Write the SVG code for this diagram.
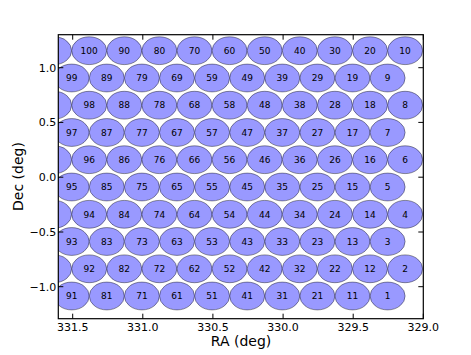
<svg xmlns="http://www.w3.org/2000/svg" width="471" height="355" viewBox="0 0 471 355">
<style>
.e{fill:#9999ff;stroke:#000;stroke-opacity:0.4;stroke-width:1}
.l{font-family:"DejaVu Sans",sans-serif;font-size:9px;fill:#000;text-anchor:middle}
.t{font-family:"DejaVu Sans",sans-serif;font-size:11px;fill:#000}
.a{font-family:"DejaVu Sans",sans-serif;font-size:14px;fill:#000;text-anchor:middle}
.tk{stroke:#000;stroke-width:1}
</style>
<defs><clipPath id="c"><rect x="58.3" y="34.7" width="365" height="284"/></clipPath></defs>
<rect width="471" height="355" fill="#fff"/>
<g clip-path="url(#c)">
<g id="edge-partials">
<ellipse class="e" cx="54.1" cy="50.7" rx="17.5" ry="13.9"/>
<ellipse class="e" cx="54.1" cy="105.2" rx="17.5" ry="13.9"/>
<ellipse class="e" cx="54.1" cy="159.7" rx="17.5" ry="13.9"/>
<ellipse class="e" cx="54.1" cy="214.3" rx="17.5" ry="13.9"/>
<ellipse class="e" cx="54.1" cy="268.8" rx="17.5" ry="13.9"/>
</g>
<g id="n100"><ellipse class="e" cx="89.2" cy="50.7" rx="17.5" ry="13.9"/><text class="l" x="89.2" y="53.9">100</text></g>
<g id="n90"><ellipse class="e" cx="124.3" cy="50.7" rx="17.5" ry="13.9"/><text class="l" x="124.3" y="53.9">90</text></g>
<g id="n80"><ellipse class="e" cx="159.4" cy="50.7" rx="17.5" ry="13.9"/><text class="l" x="159.4" y="53.9">80</text></g>
<g id="n70"><ellipse class="e" cx="194.5" cy="50.7" rx="17.5" ry="13.9"/><text class="l" x="194.5" y="53.9">70</text></g>
<g id="n60"><ellipse class="e" cx="229.6" cy="50.7" rx="17.5" ry="13.9"/><text class="l" x="229.6" y="53.9">60</text></g>
<g id="n50"><ellipse class="e" cx="264.7" cy="50.7" rx="17.5" ry="13.9"/><text class="l" x="264.7" y="53.9">50</text></g>
<g id="n40"><ellipse class="e" cx="299.8" cy="50.7" rx="17.5" ry="13.9"/><text class="l" x="299.8" y="53.9">40</text></g>
<g id="n30"><ellipse class="e" cx="334.9" cy="50.7" rx="17.5" ry="13.9"/><text class="l" x="334.9" y="53.9">30</text></g>
<g id="n20"><ellipse class="e" cx="370.0" cy="50.7" rx="17.5" ry="13.9"/><text class="l" x="370.0" y="53.9">20</text></g>
<g id="n10"><ellipse class="e" cx="405.1" cy="50.7" rx="17.5" ry="13.9"/><text class="l" x="405.1" y="53.9">10</text></g>

<g id="n99"><ellipse class="e" cx="71.7" cy="78.0" rx="17.5" ry="13.9"/><text class="l" x="71.7" y="81.2">99</text></g>
<g id="n89"><ellipse class="e" cx="106.8" cy="78.0" rx="17.5" ry="13.9"/><text class="l" x="106.8" y="81.2">89</text></g>
<g id="n79"><ellipse class="e" cx="141.9" cy="78.0" rx="17.5" ry="13.9"/><text class="l" x="141.9" y="81.2">79</text></g>
<g id="n69"><ellipse class="e" cx="177.0" cy="78.0" rx="17.5" ry="13.9"/><text class="l" x="177.0" y="81.2">69</text></g>
<g id="n59"><ellipse class="e" cx="212.1" cy="78.0" rx="17.5" ry="13.9"/><text class="l" x="212.1" y="81.2">59</text></g>
<g id="n49"><ellipse class="e" cx="247.2" cy="78.0" rx="17.5" ry="13.9"/><text class="l" x="247.2" y="81.2">49</text></g>
<g id="n39"><ellipse class="e" cx="282.3" cy="78.0" rx="17.5" ry="13.9"/><text class="l" x="282.3" y="81.2">39</text></g>
<g id="n29"><ellipse class="e" cx="317.4" cy="78.0" rx="17.5" ry="13.9"/><text class="l" x="317.4" y="81.2">29</text></g>
<g id="n19"><ellipse class="e" cx="352.5" cy="78.0" rx="17.5" ry="13.9"/><text class="l" x="352.5" y="81.2">19</text></g>
<g id="n9"><ellipse class="e" cx="387.6" cy="78.0" rx="17.5" ry="13.9"/><text class="l" x="387.6" y="81.2">9</text></g>

<g id="n98"><ellipse class="e" cx="89.2" cy="105.2" rx="17.5" ry="13.9"/><text class="l" x="89.2" y="108.4">98</text></g>
<g id="n88"><ellipse class="e" cx="124.3" cy="105.2" rx="17.5" ry="13.9"/><text class="l" x="124.3" y="108.4">88</text></g>
<g id="n78"><ellipse class="e" cx="159.4" cy="105.2" rx="17.5" ry="13.9"/><text class="l" x="159.4" y="108.4">78</text></g>
<g id="n68"><ellipse class="e" cx="194.5" cy="105.2" rx="17.5" ry="13.9"/><text class="l" x="194.5" y="108.4">68</text></g>
<g id="n58"><ellipse class="e" cx="229.6" cy="105.2" rx="17.5" ry="13.9"/><text class="l" x="229.6" y="108.4">58</text></g>
<g id="n48"><ellipse class="e" cx="264.7" cy="105.2" rx="17.5" ry="13.9"/><text class="l" x="264.7" y="108.4">48</text></g>
<g id="n38"><ellipse class="e" cx="299.8" cy="105.2" rx="17.5" ry="13.9"/><text class="l" x="299.8" y="108.4">38</text></g>
<g id="n28"><ellipse class="e" cx="334.9" cy="105.2" rx="17.5" ry="13.9"/><text class="l" x="334.9" y="108.4">28</text></g>
<g id="n18"><ellipse class="e" cx="370.0" cy="105.2" rx="17.5" ry="13.9"/><text class="l" x="370.0" y="108.4">18</text></g>
<g id="n8"><ellipse class="e" cx="405.1" cy="105.2" rx="17.5" ry="13.9"/><text class="l" x="405.1" y="108.4">8</text></g>

<g id="n97"><ellipse class="e" cx="71.7" cy="132.5" rx="17.5" ry="13.9"/><text class="l" x="71.7" y="135.7">97</text></g>
<g id="n87"><ellipse class="e" cx="106.8" cy="132.5" rx="17.5" ry="13.9"/><text class="l" x="106.8" y="135.7">87</text></g>
<g id="n77"><ellipse class="e" cx="141.9" cy="132.5" rx="17.5" ry="13.9"/><text class="l" x="141.9" y="135.7">77</text></g>
<g id="n67"><ellipse class="e" cx="177.0" cy="132.5" rx="17.5" ry="13.9"/><text class="l" x="177.0" y="135.7">67</text></g>
<g id="n57"><ellipse class="e" cx="212.1" cy="132.5" rx="17.5" ry="13.9"/><text class="l" x="212.1" y="135.7">57</text></g>
<g id="n47"><ellipse class="e" cx="247.2" cy="132.5" rx="17.5" ry="13.9"/><text class="l" x="247.2" y="135.7">47</text></g>
<g id="n37"><ellipse class="e" cx="282.3" cy="132.5" rx="17.5" ry="13.9"/><text class="l" x="282.3" y="135.7">37</text></g>
<g id="n27"><ellipse class="e" cx="317.4" cy="132.5" rx="17.5" ry="13.9"/><text class="l" x="317.4" y="135.7">27</text></g>
<g id="n17"><ellipse class="e" cx="352.5" cy="132.5" rx="17.5" ry="13.9"/><text class="l" x="352.5" y="135.7">17</text></g>
<g id="n7"><ellipse class="e" cx="387.6" cy="132.5" rx="17.5" ry="13.9"/><text class="l" x="387.6" y="135.7">7</text></g>

<g id="n96"><ellipse class="e" cx="89.2" cy="159.7" rx="17.5" ry="13.9"/><text class="l" x="89.2" y="162.9">96</text></g>
<g id="n86"><ellipse class="e" cx="124.3" cy="159.7" rx="17.5" ry="13.9"/><text class="l" x="124.3" y="162.9">86</text></g>
<g id="n76"><ellipse class="e" cx="159.4" cy="159.7" rx="17.5" ry="13.9"/><text class="l" x="159.4" y="162.9">76</text></g>
<g id="n66"><ellipse class="e" cx="194.5" cy="159.7" rx="17.5" ry="13.9"/><text class="l" x="194.5" y="162.9">66</text></g>
<g id="n56"><ellipse class="e" cx="229.6" cy="159.7" rx="17.5" ry="13.9"/><text class="l" x="229.6" y="162.9">56</text></g>
<g id="n46"><ellipse class="e" cx="264.7" cy="159.7" rx="17.5" ry="13.9"/><text class="l" x="264.7" y="162.9">46</text></g>
<g id="n36"><ellipse class="e" cx="299.8" cy="159.7" rx="17.5" ry="13.9"/><text class="l" x="299.8" y="162.9">36</text></g>
<g id="n26"><ellipse class="e" cx="334.9" cy="159.7" rx="17.5" ry="13.9"/><text class="l" x="334.9" y="162.9">26</text></g>
<g id="n16"><ellipse class="e" cx="370.0" cy="159.7" rx="17.5" ry="13.9"/><text class="l" x="370.0" y="162.9">16</text></g>
<g id="n6"><ellipse class="e" cx="405.1" cy="159.7" rx="17.5" ry="13.9"/><text class="l" x="405.1" y="162.9">6</text></g>

<g id="n95"><ellipse class="e" cx="71.7" cy="187.0" rx="17.5" ry="13.9"/><text class="l" x="71.7" y="190.2">95</text></g>
<g id="n85"><ellipse class="e" cx="106.8" cy="187.0" rx="17.5" ry="13.9"/><text class="l" x="106.8" y="190.2">85</text></g>
<g id="n75"><ellipse class="e" cx="141.9" cy="187.0" rx="17.5" ry="13.9"/><text class="l" x="141.9" y="190.2">75</text></g>
<g id="n65"><ellipse class="e" cx="177.0" cy="187.0" rx="17.5" ry="13.9"/><text class="l" x="177.0" y="190.2">65</text></g>
<g id="n55"><ellipse class="e" cx="212.1" cy="187.0" rx="17.5" ry="13.9"/><text class="l" x="212.1" y="190.2">55</text></g>
<g id="n45"><ellipse class="e" cx="247.2" cy="187.0" rx="17.5" ry="13.9"/><text class="l" x="247.2" y="190.2">45</text></g>
<g id="n35"><ellipse class="e" cx="282.3" cy="187.0" rx="17.5" ry="13.9"/><text class="l" x="282.3" y="190.2">35</text></g>
<g id="n25"><ellipse class="e" cx="317.4" cy="187.0" rx="17.5" ry="13.9"/><text class="l" x="317.4" y="190.2">25</text></g>
<g id="n15"><ellipse class="e" cx="352.5" cy="187.0" rx="17.5" ry="13.9"/><text class="l" x="352.5" y="190.2">15</text></g>
<g id="n5"><ellipse class="e" cx="387.6" cy="187.0" rx="17.5" ry="13.9"/><text class="l" x="387.6" y="190.2">5</text></g>

<g id="n94"><ellipse class="e" cx="89.2" cy="214.3" rx="17.5" ry="13.9"/><text class="l" x="89.2" y="217.5">94</text></g>
<g id="n84"><ellipse class="e" cx="124.3" cy="214.3" rx="17.5" ry="13.9"/><text class="l" x="124.3" y="217.5">84</text></g>
<g id="n74"><ellipse class="e" cx="159.4" cy="214.3" rx="17.5" ry="13.9"/><text class="l" x="159.4" y="217.5">74</text></g>
<g id="n64"><ellipse class="e" cx="194.5" cy="214.3" rx="17.5" ry="13.9"/><text class="l" x="194.5" y="217.5">64</text></g>
<g id="n54"><ellipse class="e" cx="229.6" cy="214.3" rx="17.5" ry="13.9"/><text class="l" x="229.6" y="217.5">54</text></g>
<g id="n44"><ellipse class="e" cx="264.7" cy="214.3" rx="17.5" ry="13.9"/><text class="l" x="264.7" y="217.5">44</text></g>
<g id="n34"><ellipse class="e" cx="299.8" cy="214.3" rx="17.5" ry="13.9"/><text class="l" x="299.8" y="217.5">34</text></g>
<g id="n24"><ellipse class="e" cx="334.9" cy="214.3" rx="17.5" ry="13.9"/><text class="l" x="334.9" y="217.5">24</text></g>
<g id="n14"><ellipse class="e" cx="370.0" cy="214.3" rx="17.5" ry="13.9"/><text class="l" x="370.0" y="217.5">14</text></g>
<g id="n4"><ellipse class="e" cx="405.1" cy="214.3" rx="17.5" ry="13.9"/><text class="l" x="405.1" y="217.5">4</text></g>

<g id="n93"><ellipse class="e" cx="71.7" cy="241.5" rx="17.5" ry="13.9"/><text class="l" x="71.7" y="244.7">93</text></g>
<g id="n83"><ellipse class="e" cx="106.8" cy="241.5" rx="17.5" ry="13.9"/><text class="l" x="106.8" y="244.7">83</text></g>
<g id="n73"><ellipse class="e" cx="141.9" cy="241.5" rx="17.5" ry="13.9"/><text class="l" x="141.9" y="244.7">73</text></g>
<g id="n63"><ellipse class="e" cx="177.0" cy="241.5" rx="17.5" ry="13.9"/><text class="l" x="177.0" y="244.7">63</text></g>
<g id="n53"><ellipse class="e" cx="212.1" cy="241.5" rx="17.5" ry="13.9"/><text class="l" x="212.1" y="244.7">53</text></g>
<g id="n43"><ellipse class="e" cx="247.2" cy="241.5" rx="17.5" ry="13.9"/><text class="l" x="247.2" y="244.7">43</text></g>
<g id="n33"><ellipse class="e" cx="282.3" cy="241.5" rx="17.5" ry="13.9"/><text class="l" x="282.3" y="244.7">33</text></g>
<g id="n23"><ellipse class="e" cx="317.4" cy="241.5" rx="17.5" ry="13.9"/><text class="l" x="317.4" y="244.7">23</text></g>
<g id="n13"><ellipse class="e" cx="352.5" cy="241.5" rx="17.5" ry="13.9"/><text class="l" x="352.5" y="244.7">13</text></g>
<g id="n3"><ellipse class="e" cx="387.6" cy="241.5" rx="17.5" ry="13.9"/><text class="l" x="387.6" y="244.7">3</text></g>

<g id="n92"><ellipse class="e" cx="89.2" cy="268.8" rx="17.5" ry="13.9"/><text class="l" x="89.2" y="272.0">92</text></g>
<g id="n82"><ellipse class="e" cx="124.3" cy="268.8" rx="17.5" ry="13.9"/><text class="l" x="124.3" y="272.0">82</text></g>
<g id="n72"><ellipse class="e" cx="159.4" cy="268.8" rx="17.5" ry="13.9"/><text class="l" x="159.4" y="272.0">72</text></g>
<g id="n62"><ellipse class="e" cx="194.5" cy="268.8" rx="17.5" ry="13.9"/><text class="l" x="194.5" y="272.0">62</text></g>
<g id="n52"><ellipse class="e" cx="229.6" cy="268.8" rx="17.5" ry="13.9"/><text class="l" x="229.6" y="272.0">52</text></g>
<g id="n42"><ellipse class="e" cx="264.7" cy="268.8" rx="17.5" ry="13.9"/><text class="l" x="264.7" y="272.0">42</text></g>
<g id="n32"><ellipse class="e" cx="299.8" cy="268.8" rx="17.5" ry="13.9"/><text class="l" x="299.8" y="272.0">32</text></g>
<g id="n22"><ellipse class="e" cx="334.9" cy="268.8" rx="17.5" ry="13.9"/><text class="l" x="334.9" y="272.0">22</text></g>
<g id="n12"><ellipse class="e" cx="370.0" cy="268.8" rx="17.5" ry="13.9"/><text class="l" x="370.0" y="272.0">12</text></g>
<g id="n2"><ellipse class="e" cx="405.1" cy="268.8" rx="17.5" ry="13.9"/><text class="l" x="405.1" y="272.0">2</text></g>

<g id="n91"><ellipse class="e" cx="71.7" cy="296.0" rx="17.5" ry="13.9"/><text class="l" x="71.7" y="299.2">91</text></g>
<g id="n81"><ellipse class="e" cx="106.8" cy="296.0" rx="17.5" ry="13.9"/><text class="l" x="106.8" y="299.2">81</text></g>
<g id="n71"><ellipse class="e" cx="141.9" cy="296.0" rx="17.5" ry="13.9"/><text class="l" x="141.9" y="299.2">71</text></g>
<g id="n61"><ellipse class="e" cx="177.0" cy="296.0" rx="17.5" ry="13.9"/><text class="l" x="177.0" y="299.2">61</text></g>
<g id="n51"><ellipse class="e" cx="212.1" cy="296.0" rx="17.5" ry="13.9"/><text class="l" x="212.1" y="299.2">51</text></g>
<g id="n41"><ellipse class="e" cx="247.2" cy="296.0" rx="17.5" ry="13.9"/><text class="l" x="247.2" y="299.2">41</text></g>
<g id="n31"><ellipse class="e" cx="282.3" cy="296.0" rx="17.5" ry="13.9"/><text class="l" x="282.3" y="299.2">31</text></g>
<g id="n21"><ellipse class="e" cx="317.4" cy="296.0" rx="17.5" ry="13.9"/><text class="l" x="317.4" y="299.2">21</text></g>
<g id="n11"><ellipse class="e" cx="352.5" cy="296.0" rx="17.5" ry="13.9"/><text class="l" x="352.5" y="299.2">11</text></g>
<g id="n1"><ellipse class="e" cx="387.6" cy="296.0" rx="17.5" ry="13.9"/><text class="l" x="387.6" y="299.2">1</text></g>
</g>

<g id="axes">
<rect x="58.3" y="34.7" width="365" height="284" fill="none" stroke="#000" stroke-width="1.2"/>
<g class="tk">
<path d="M72.7 318.7V313.7M142.8 318.7V313.7M212.9 318.7V313.7M283.1 318.7V313.7M353.2 318.7V313.7M423.3 318.7V313.7"/>
<path d="M72.7 34.7V39.7M142.8 34.7V39.7M212.9 34.7V39.7M283.1 34.7V39.7M353.2 34.7V39.7M423.3 34.7V39.7"/>
<path d="M58.3 67.7H63.3M58.3 122.4H63.3M58.3 177.2H63.3M58.3 232H63.3M58.3 286.7H63.3"/>
<path d="M423.3 67.7H418.3M423.3 122.4H418.3M423.3 177.2H418.3M423.3 232H418.3M423.3 286.7H418.3"/>
</g>
<g class="t" text-anchor="middle">
<text x="72.7" y="331">331.5</text>
<text x="142.8" y="331">331.0</text>
<text x="212.9" y="331">330.5</text>
<text x="283.1" y="331">330.0</text>
<text x="353.2" y="331">329.5</text>
<text x="423.3" y="331">329.0</text>
</g>
<g class="t" text-anchor="end">
<text x="56.3" y="71.7">1.0</text>
<text x="56.3" y="126.4">0.5</text>
<text x="56.3" y="181.2">0.0</text>
<text x="56.3" y="236">−0.5</text>
<text x="56.3" y="290.7">−1.0</text>
</g>
<text class="a" x="241" y="346">RA (deg)</text>
<text class="a" transform="translate(23,176.5) rotate(-90)">Dec (deg)</text>
</g>
</svg>
